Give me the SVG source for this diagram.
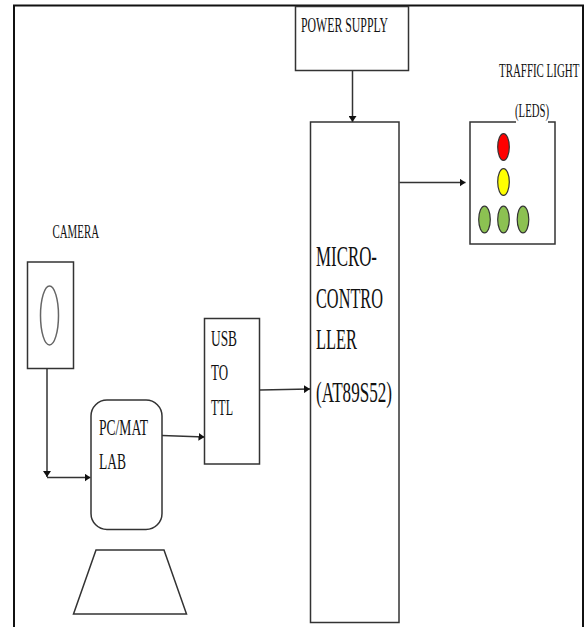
<svg xmlns="http://www.w3.org/2000/svg" width="585" height="627" viewBox="0 0 585 627">
<style>
text{font-family:"Liberation Serif","Times New Roman",serif;fill:#111}
.b{fill:#fff;stroke:#333;stroke-width:1.500}
.g{fill:#8cc152;stroke:#333;stroke-width:1.200}
.c{fill:none;stroke:#333;stroke-width:1.500}
</style>
<defs>
<marker id="a" markerUnits="userSpaceOnUse" markerWidth="7" markerHeight="8" refX="6" refY="4" orient="auto"><path d="M0 0L6 4L0 8Z" fill="#111"/></marker>
</defs>
<rect width="585" height="627" fill="#fff"/>
<path id="frame" d="M14 627V5.500H583V627" fill="none" stroke="#111" stroke-width="2"/>
<g id="connectors">
<path class="c" d="M47 369V477" marker-end="url(#a)"/>
<path class="c" d="M47 477.500H90.500" stroke-width="1.800" marker-end="url(#a)"/>
<path class="c" d="M162 435.500L204.500 437" marker-end="url(#a)"/>
<path class="c" d="M260 390L310 389" marker-end="url(#a)"/>
<path class="c" d="M352.500 71V122" marker-end="url(#a)"/>
<path class="c" d="M399.500 182.500H465.500" marker-end="url(#a)"/>
</g>
<g id="power-supply"><rect class="b" x="295.500" y="6.500" width="113" height="64"/><text x="301" y="32" font-size="21" textLength="87" lengthAdjust="spacingAndGlyphs">POWER SUPPLY</text></g>
<g id="microcontroller"><rect class="b" x="310.500" y="122" width="88.500" height="500.500"/>
<text x="316" y="266" font-size="29" textLength="61" lengthAdjust="spacingAndGlyphs">MICRO-</text>
<text x="316" y="308" font-size="29" textLength="67" lengthAdjust="spacingAndGlyphs">CONTRO</text>
<text x="316" y="349" font-size="29" textLength="41" lengthAdjust="spacingAndGlyphs">LLER</text>
<text x="316" y="402" font-size="29" textLength="76" lengthAdjust="spacingAndGlyphs">(AT89S52)</text></g>
<g id="traffic-light"><rect class="b" x="470" y="122" width="85" height="122"/>
<text transform="translate(499 77) scale(0.575 1)" font-size="19">TRAFFIC LIGHT</text>
<rect x="516" y="120" width="32" height="3.500" fill="#fff"/>
<text x="515" y="117" font-size="19" textLength="34" lengthAdjust="spacingAndGlyphs">(LEDS)</text>
<ellipse cx="503.500" cy="147" rx="5.800" ry="13.300" fill="#f00" stroke="#333" stroke-width="1.200"/>
<ellipse cx="503.500" cy="182" rx="5.800" ry="13.300" fill="#ff0" stroke="#333" stroke-width="1.200"/>
<ellipse class="g" cx="484.500" cy="219.500" rx="5.800" ry="13.300"/>
<ellipse class="g" cx="503.500" cy="219.500" rx="5.800" ry="13.300"/>
<ellipse class="g" cx="523" cy="219.500" rx="5.800" ry="13.300"/></g>
<g id="camera"><text x="52.500" y="238" font-size="18" textLength="46.500" lengthAdjust="spacingAndGlyphs">CAMERA</text>
<rect class="b" x="27.500" y="262" width="46" height="106.500"/>
<ellipse cx="49.500" cy="315.500" rx="9" ry="29.500" fill="#fff" stroke="#666" stroke-width="1.500"/></g>
<g id="usb-to-ttl"><rect class="b" x="204.500" y="318.500" width="55" height="145.500"/>
<text x="211" y="346" font-size="24" textLength="26" lengthAdjust="spacingAndGlyphs">USB</text>
<text x="211" y="380" font-size="24" textLength="17" lengthAdjust="spacingAndGlyphs">TO</text>
<text x="211" y="415" font-size="24" textLength="22" lengthAdjust="spacingAndGlyphs">TTL</text></g>
<g id="pc-matlab"><rect class="b" x="91" y="400" width="71" height="129.500" rx="16"/>
<text x="99" y="435" font-size="24" textLength="49" lengthAdjust="spacingAndGlyphs">PC/MAT</text>
<text x="99" y="469" font-size="24" textLength="27" lengthAdjust="spacingAndGlyphs">LAB</text></g>
<g id="monitor-stand"><path d="M96 550H164L186.500 614H73.500Z" fill="#fff" stroke="#333" stroke-width="1.500"/></g>
</svg>
